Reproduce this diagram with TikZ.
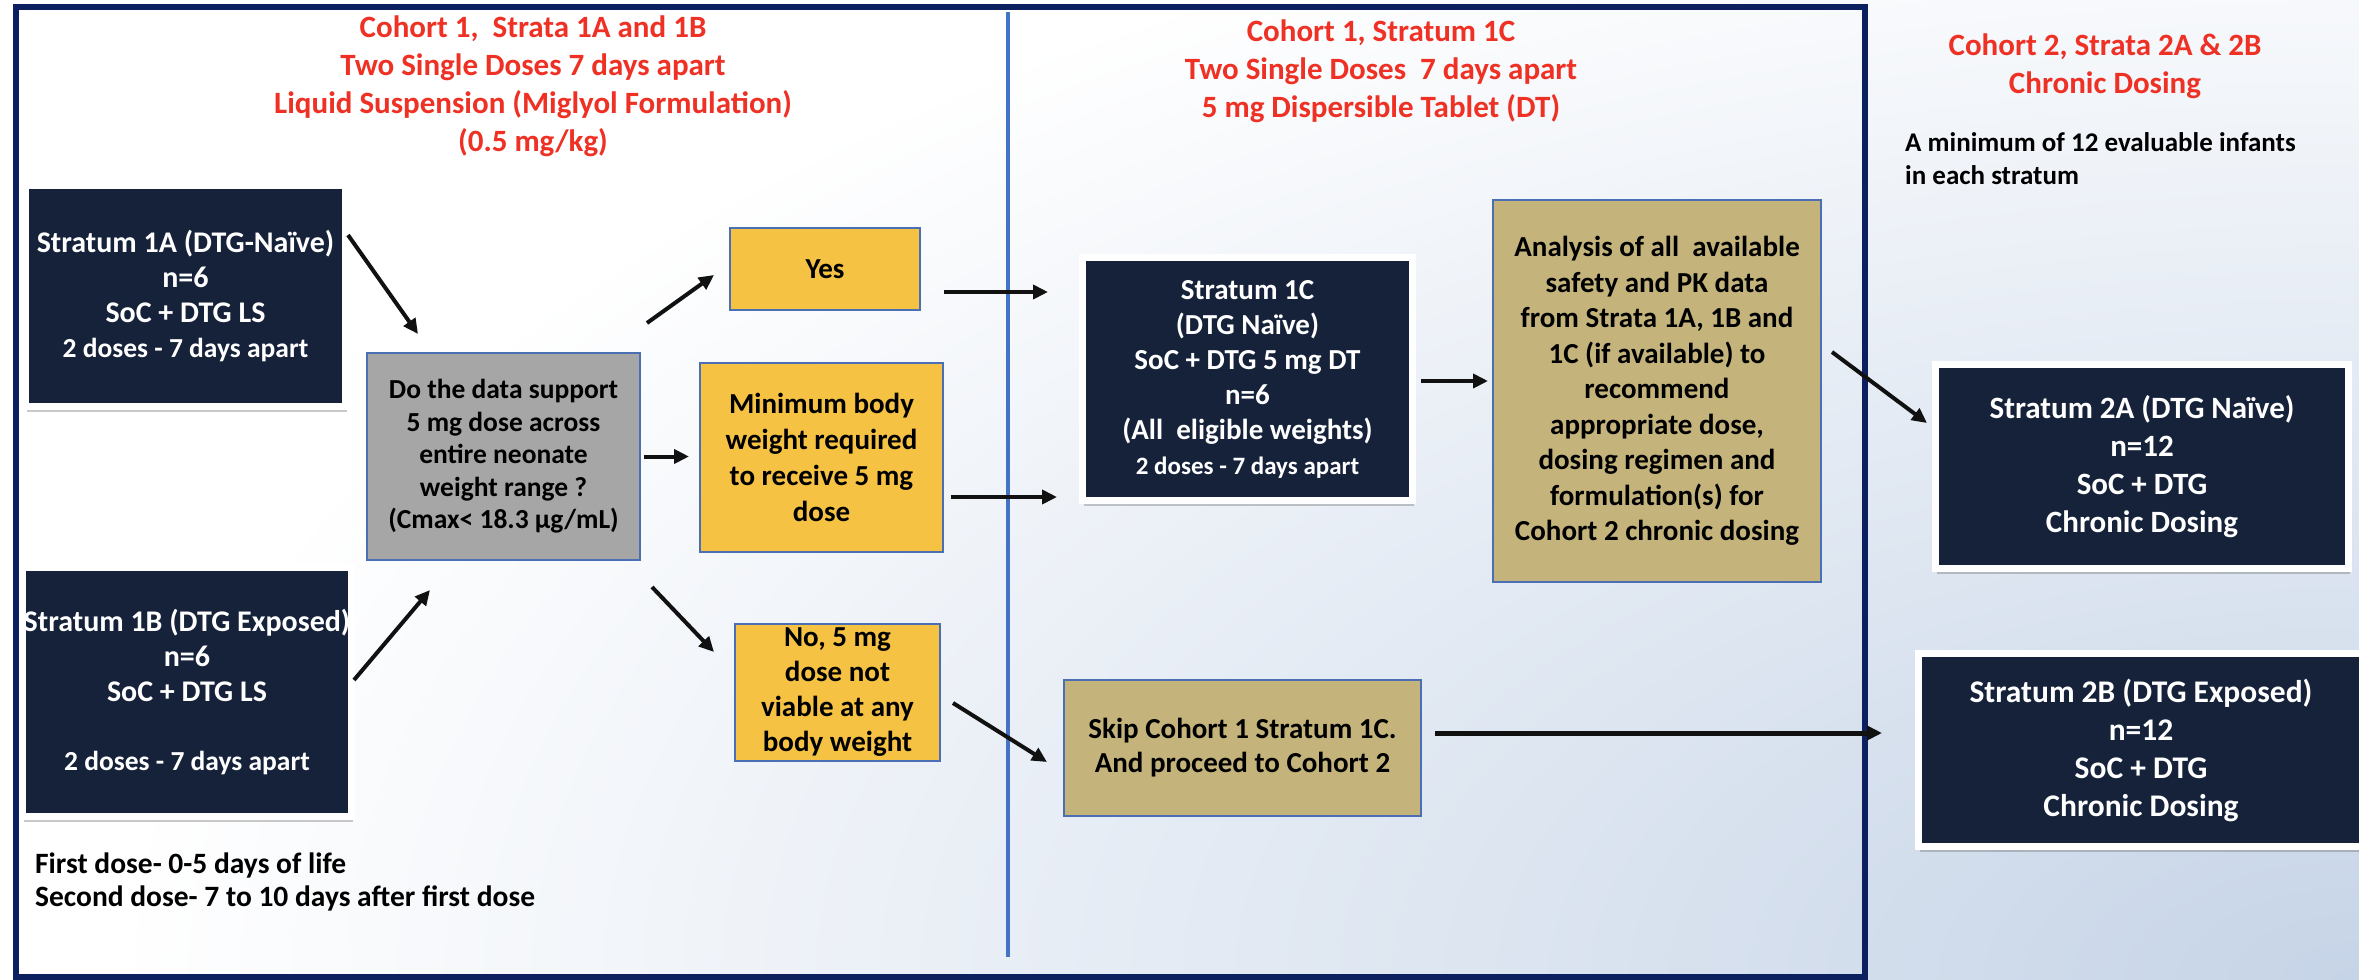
\documentclass[tikz,border=0pt]{standalone}
\usepackage{fontspec}
\setmainfont{Carlito}
\usetikzlibrary{arrows.meta,shadows,calc}
\definecolor{framenavy}{HTML}{0C1F5F}
\definecolor{divblue}{HTML}{4472C4}
\definecolor{darkfill}{HTML}{15223A}
\definecolor{titlered}{HTML}{EE3124}
\definecolor{goldfill}{HTML}{F5C243}
\definecolor{khakifill}{HTML}{C4B47B}
\definecolor{greyfill}{HTML}{A6A6A6}
\definecolor{boxblue}{HTML}{4A6FB5}
\definecolor{arrcol}{HTML}{111111}
\definecolor{bgend}{HTML}{C6D4E7}
\begin{document}
\begin{tikzpicture}[x=1pt,y=-1pt,
  darkbox/.style={draw=white, line width=7pt, fill=darkfill, text=white, align=center,
    inner sep=0pt, outer sep=0pt,
    drop shadow={shadow xshift=1pt, shadow yshift=-5pt, opacity=0.35, fill=black!60}},
  flatbox/.style={draw=boxblue, line width=1.6pt, align=center, inner sep=0pt, outer sep=0pt, text=black},
  arr/.style={draw=arrcol, line width=4pt, -{Triangle[length=15pt,width=14pt]}},
  titletext/.style={text=titlered, align=center, inner sep=0pt, font=\bfseries\fontsize{31}{38}\selectfont},
  plaintext/.style={text=black, align=left, inner sep=0pt}
]
\useasboundingbox (0,0) rectangle (2359,980);
\begin{scope}
\clip (0,0) rectangle (2359,980);
\fill[white] (0,0) rectangle (2359,980);
\shade[inner color=bgend, outer color=white] (2359,980) ellipse [x radius=2250pt, y radius=1150pt];
\end{scope}

% frame and divider
\draw[framenavy, line width=6pt] (16,7) rectangle (1865,977);
\draw[divblue, line width=3.5pt] (1008,12) -- (1008,957);

% titles
\node[titletext] (t1) at (533,86) {Cohort 1,\ \ Strata 1A and 1B\\Two Single Doses 7 days apart\\Liquid Suspension (Miglyol Formulation)\\(0.5 mg/kg)};
\node[titletext] (t2) at (1381,71) {Cohort 1, Stratum 1C\\Two Single Doses\ \ 7 days apart\\5 mg Dispersible Tablet (DT)};
\node[titletext] (t3) at (2105,66) {Cohort 2, Strata 2A \& 2B\\Chronic Dosing};

\node[plaintext, anchor=west, font=\bfseries\fontsize{27}{33}\selectfont] (min12) at (1905,158.5) {A minimum of 12 evaluable infants\\in each stratum};
\node[plaintext, anchor=west, font=\bfseries\fontsize{29.5}{33}\selectfont] (foot) at (35,881.5) {First dose- 0-5 days of life\\Second dose- 7 to 10 days after first dose};

% boxes
\node[darkbox, minimum width=320pt, minimum height=221pt, font=\bfseries\fontsize{30}{35}\selectfont] (s1a) at (185.5,296)
  {Stratum 1A (DTG-Naïve)\\n=6\\SoC + DTG LS\\{\fontsize{27.5}{35}\selectfont 2 doses - 7 days apart}};
\node[darkbox, minimum width=329pt, minimum height=249pt, font=\bfseries\fontsize{30}{35}\selectfont] (s1b) at (187,692)
  {Stratum 1B (DTG Exposed)\\n=6\\SoC + DTG LS\\[34pt]{\fontsize{27.5}{35}\selectfont 2 doses - 7 days apart}};
\node[flatbox, fill=greyfill, minimum width=273pt, minimum height=207pt, font=\bfseries\fontsize{27.5}{32.5}\selectfont] (dec) at (503.5,456.5)
  {Do the data support\\5 mg dose across\\entire neonate\\weight range ?\\(Cmax< 18.3 µg/mL)};
\node[flatbox, fill=goldfill, minimum width=190pt, minimum height=82pt, font=\bfseries\fontsize{29}{35}\selectfont] (yes) at (825,269) {Yes};
\node[flatbox, fill=goldfill, minimum width=243pt, minimum height=189pt, font=\bfseries\fontsize{29}{36}\selectfont] (min) at (821.5,457.5)
  {Minimum body\\weight required\\to receive 5 mg\\dose};
\node[flatbox, fill=goldfill, minimum width=205pt, minimum height=137pt, font=\bfseries\fontsize{29}{35}\selectfont] (no) at (837.5,692.5)
  {No, 5 mg\\dose not\\viable at any\\body weight};
\node[darkbox, minimum width=330pt, minimum height=243pt, font=\bfseries\fontsize{29}{35}\selectfont] (s1c) at (1247.5,379)
  {Stratum 1C\\(DTG Naïve)\\SoC + DTG 5 mg DT\\n=6\\(All\ \ eligible weights)\\{\fontsize{25}{33}\selectfont 2 doses - 7 days apart}};
\node[flatbox, fill=khakifill, minimum width=328pt, minimum height=382pt, font=\bfseries\fontsize{29}{35.5}\selectfont] (ana) at (1657,391)
  {Analysis of all\ \ available\\safety and PK data\\from Strata 1A, 1B and\\1C (if available) to\\recommend\\appropriate dose,\\dosing regimen and\\formulation(s) for\\Cohort 2 chronic dosing};
\node[flatbox, fill=khakifill, minimum width=357pt, minimum height=136pt, font=\bfseries\fontsize{29}{34}\selectfont] (skip) at (1242.5,748)
  {Skip Cohort 1 Stratum 1C.\\And proceed to Cohort 2};
\node[darkbox, minimum width=413pt, minimum height=204pt, font=\bfseries\fontsize{31}{38}\selectfont] (s2a) at (2142,466.5)
  {Stratum 2A (DTG Naïve)\\n=12\\SoC + DTG\\Chronic Dosing};
\node[darkbox, minimum width=445pt, minimum height=193pt, font=\bfseries\fontsize{31.5}{38}\selectfont] (s2b) at (2141,750)
  {Stratum 2B (DTG Exposed)\\n=12\\SoC + DTG\\Chronic Dosing};

% connectors
\draw[arr] ([xshift=2.5pt,yshift=61pt]s1a.east) -- ([xshift=-85.5pt,yshift=19pt]dec.north);
\draw[arr] ([xshift=2.5pt,yshift=12pt]s1b.east) -- ([xshift=-73.5pt,yshift=-30pt]dec.south);
\draw[arr] ([xshift=7pt,yshift=30pt]dec.north east) -- ([xshift=-16pt,yshift=-6pt]yes.west);
\draw[arr] ([xshift=4pt]dec.east) -- ([xshift=-11pt,yshift=1pt]min.west);
\draw[arr] ([xshift=12pt,yshift=-27pt]dec.south east) -- ([xshift=-21pt,yshift=-28pt]no.north west);
\draw[arr] ([xshift=24pt,yshift=-23pt]yes.east) -- ([xshift=-34.5pt,yshift=87pt]s1c.west);
\draw[arr] ([xshift=8pt,yshift=-39.5pt]min.east) -- ([xshift=-25.5pt,yshift=-118pt]s1c.west);
\draw[arr] ([xshift=8.5pt,yshift=-2pt]s1c.east) -- ([xshift=-5pt,yshift=10pt]ana.west);
\draw[arr] ([xshift=11pt,yshift=39pt]ana.east) -- ([xshift=-8.5pt,yshift=43.5pt]s2a.west);
\draw[arr] ([xshift=13pt,yshift=-10.5pt]no.east) -- ([xshift=-17pt,yshift=-14pt]skip.west);
\draw[arr, line width=5pt] ([xshift=14pt,yshift=15pt]skip.east) -- ([xshift=-36.5pt,yshift=17pt]s2b.west);
\end{tikzpicture}
\end{document}
